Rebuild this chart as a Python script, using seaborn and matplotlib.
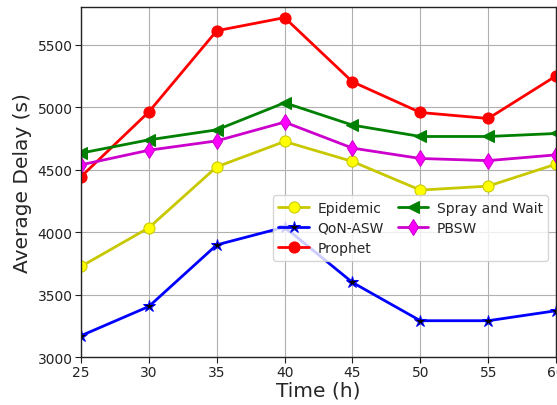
import matplotlib
matplotlib.use("Agg")
import pandas as pd
import seaborn as sns
import matplotlib.pyplot as plt

time_h = [25, 30, 35, 40, 45, 50, 55, 60]
epidemic = [3725, 4035, 4522, 4725, 4565, 4336, 4368, 4544]
qon_asw = [3171, 3405, 3898, 4040, 3597, 3291, 3291, 3371]
prophet = [4443, 4962, 5611, 5716, 5202, 4957, 4909, 5250]
spray_wait = [4632, 4738, 4818, 5035, 4856, 4765, 4765, 4789]
pbsw = [4538, 4655, 4730, 4880, 4672, 4589, 4572, 4618]

series_names = ['Epidemic', 'QoN-ASW', 'Prophet', 'Spray and Wait', 'PBSW']
series_vals = [epidemic, qon_asw, prophet, spray_wait, pbsw]

# line color, marker, marker face color
STYLE = {
    'Epidemic': ('#c8c800', 'o', 'yellow'),
    'QoN-ASW': ('blue', '*', 'black'),
    'Prophet': ('red', 'o', 'red'),
    'Spray and Wait': ('green', '<', 'green'),
    'PBSW': ('#cc00cc', 'd', 'magenta'),
}

rows = []
for name, vals in zip(series_names, series_vals):
    for t, v in zip(time_h, vals):
        rows.append({'time': t, 'delay': v, 'policy': name})
df = pd.DataFrame(rows)

sns.set_style("whitegrid")
plt.rcParams['font.family'] = ['DejaVu Sans']

fig = plt.figure(figsize=(5.57, 4.06), dpi=100)
ax = fig.add_axes([0.1454, 0.118, 0.853, 0.862])

for name in series_names:
    color, marker, face = STYLE[name]
    sub = df[df.policy == name]
    sns.lineplot(data=sub, x='time', y='delay', ax=ax, color=color, marker=marker,
                 markerfacecolor=face, markeredgecolor=color,
                 markersize=8 if marker != '*' else 9, linewidth=2, label=name)

ax.set_xlim(25, 60)
ax.set_ylim(3000, 5800)
ax.set_xticks(time_h)
ax.set_yticks([3000, 3500, 4000, 4500, 5000, 5500])
ax.tick_params(labelsize=10, length=4, pad=2, direction='out', left=True, bottom=True, colors='#222222')
ax.set_xlabel('Time (h)', fontsize=14.5, labelpad=1)
ax.set_ylabel('Average Delay (s)', fontsize=14.5, labelpad=4)
ax.grid(color='#b0b0b0', linewidth=0.8)
for s in ax.spines.values():
    s.set_color('#222222')
    s.set_linewidth(1)

ax.legend(ncol=2, loc='upper left', bbox_to_anchor=(0.404, 0.463), fontsize=10,
          frameon=True, framealpha=0.8, borderpad=0.4, handlelength=2.2,
          columnspacing=1.0, labelspacing=0.45, handletextpad=0.6, borderaxespad=0)

plt.savefig('out.png', dpi=100)
